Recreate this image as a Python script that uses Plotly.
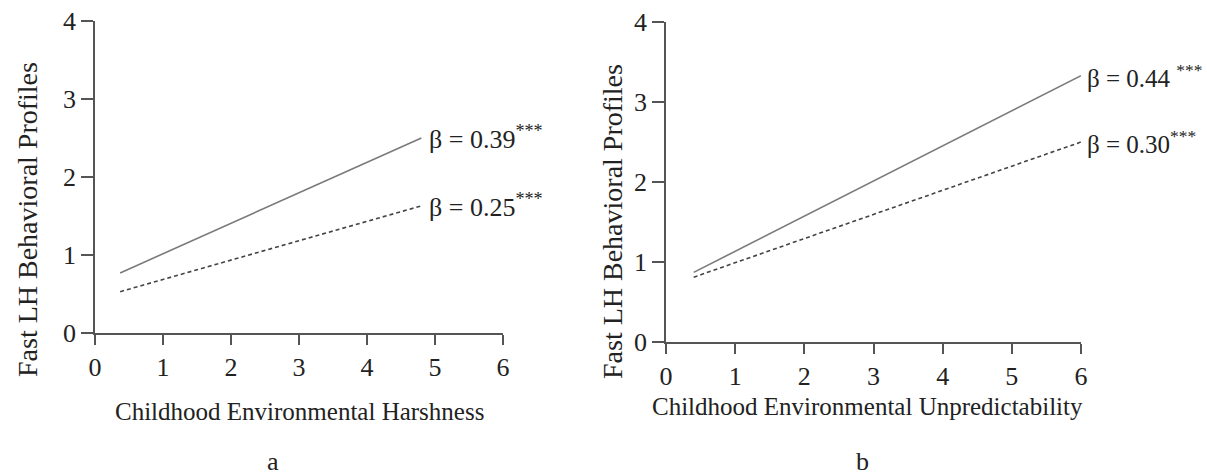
import plotly.graph_objects as go

# Data
x_harsh = [0.37, 4.8]
y_harsh_solid = [0.77, 2.50]
y_harsh_dash = [0.53, 1.63]
x_unpred = [0.4, 6.0]
y_unpred_solid = [0.87, 3.33]
y_unpred_dash = [0.81, 2.50]
labels_a = ["β = 0.39<sup>***</sup>", "β = 0.25<sup>***</sup>"]
labels_b = ["β = 0.44 <sup>***</sup>", "β = 0.30<sup>***</sup>"]
ytitle = "Fast LH Behavioral Profiles"
xtitle_a = "Childhood Environmental Harshness"
xtitle_b = "Childhood Environmental Unpredictability"
tickvals_x = [0, 1, 2, 3, 4, 5, 6]
tickvals_y = [0, 1, 2, 3, 4]

FONT = "Liberation Serif, Times New Roman, serif"
W, H = 1207, 476
solid_col = "#7a7a7a"
dash_col = "#444444"
axis_col = "#555555"
text_col = "#222222"

fig = go.Figure()
fig.add_trace(go.Scatter(x=x_harsh, y=y_harsh_solid, mode="lines",
                         line=dict(color=solid_col, width=1.6), xaxis="x", yaxis="y"))
fig.add_trace(go.Scatter(x=x_harsh, y=y_harsh_dash, mode="lines",
                         line=dict(color=dash_col, width=1.6, dash="4px,3px"), xaxis="x", yaxis="y"))
fig.add_trace(go.Scatter(x=x_unpred, y=y_unpred_solid, mode="lines",
                         line=dict(color=solid_col, width=1.6), xaxis="x2", yaxis="y2"))
fig.add_trace(go.Scatter(x=x_unpred, y=y_unpred_dash, mode="lines",
                         line=dict(color=dash_col, width=1.6, dash="4px,3px"), xaxis="x2", yaxis="y2"))

def px_x(p):
    return p / W

def px_y(p):
    return 1 - p / H

xaxis_common = dict(showline=True, linecolor=axis_col, linewidth=1.6, ticks="outside",
                    ticklen=10, tickwidth=1.6, tickcolor=axis_col, showgrid=False,
                    zeroline=False, automargin=False,
                    tickfont=dict(family=FONT, size=26, color=text_col))
yaxis_common = dict(showline=True, linecolor=axis_col, linewidth=1.6, ticks="outside",
                    ticklen=12, tickwidth=1.6, tickcolor=axis_col, showgrid=False,
                    zeroline=False, automargin=False, ticklabelstandoff=0,
                    tickfont=dict(family=FONT, size=26, color=text_col))

fig.update_layout(
    template="none",
    width=W, height=H, margin=dict(l=0, r=0, t=0, b=0, pad=0),
    paper_bgcolor="white", plot_bgcolor="white", showlegend=False,
    xaxis=dict(domain=[px_x(95), px_x(503)], range=[0, 6], tickvals=tickvals_x,
               anchor="y", **xaxis_common),
    yaxis=dict(domain=[px_y(333), px_y(21)], range=[0, 4], tickvals=tickvals_y,
               anchor="x", **yaxis_common),
    xaxis2=dict(domain=[px_x(666), px_x(1081)], range=[0, 6], tickvals=tickvals_x,
                anchor="y2", **xaxis_common),
    yaxis2=dict(domain=[px_y(342), px_y(22)], range=[0, 4], tickvals=tickvals_y,
                anchor="x2", **yaxis_common),
)

ann = []
for lab, yv in zip(labels_a, [y_harsh_solid[1], y_harsh_dash[1]]):
    ann.append(dict(x=x_harsh[1], y=yv, xref="x", yref="y", text=lab, showarrow=False,
                    xanchor="left", yanchor="middle", xshift=6,
                    font=dict(family=FONT, size=26, color=text_col)))
for lab, yv in zip(labels_b, [y_unpred_solid[1], y_unpred_dash[1]]):
    ann.append(dict(x=x_unpred[1], y=yv, xref="x2", yref="y2", text=lab, showarrow=False,
                    xanchor="left", yanchor="middle", xshift=4,
                    font=dict(family=FONT, size=25, color=text_col)))
ann.append(dict(x=px_x(299), y=px_y(411), xref="paper", yref="paper", text=xtitle_a,
                showarrow=False, xanchor="center", yanchor="middle",
                font=dict(family=FONT, size=25, color=text_col)))
ann.append(dict(x=px_x(867), y=px_y(406), xref="paper", yref="paper", text=xtitle_b,
                showarrow=False, xanchor="center", yanchor="middle",
                font=dict(family=FONT, size=25, color=text_col)))
ann.append(dict(x=px_x(27), y=px_y(220), xref="paper", yref="paper", text=ytitle,
                showarrow=False, textangle=-90, xanchor="center", yanchor="middle",
                font=dict(family=FONT, size=28, color=text_col)))
ann.append(dict(x=px_x(612), y=px_y(222), xref="paper", yref="paper", text=ytitle,
                showarrow=False, textangle=-90, xanchor="center", yanchor="middle",
                font=dict(family=FONT, size=28, color=text_col)))
ann.append(dict(x=px_x(273), y=px_y(461), xref="paper", yref="paper", text="a",
                showarrow=False, xanchor="center", yanchor="middle",
                font=dict(family=FONT, size=26, color=text_col)))
ann.append(dict(x=px_x(862), y=px_y(461), xref="paper", yref="paper", text="b",
                showarrow=False, xanchor="center", yanchor="middle",
                font=dict(family=FONT, size=26, color=text_col)))
fig.update_layout(annotations=ann)

fig.write_html("out.html", config={"displayModeBar": False},
               post_script="document.body.style.margin='0';document.body.style.overflow='hidden';")
